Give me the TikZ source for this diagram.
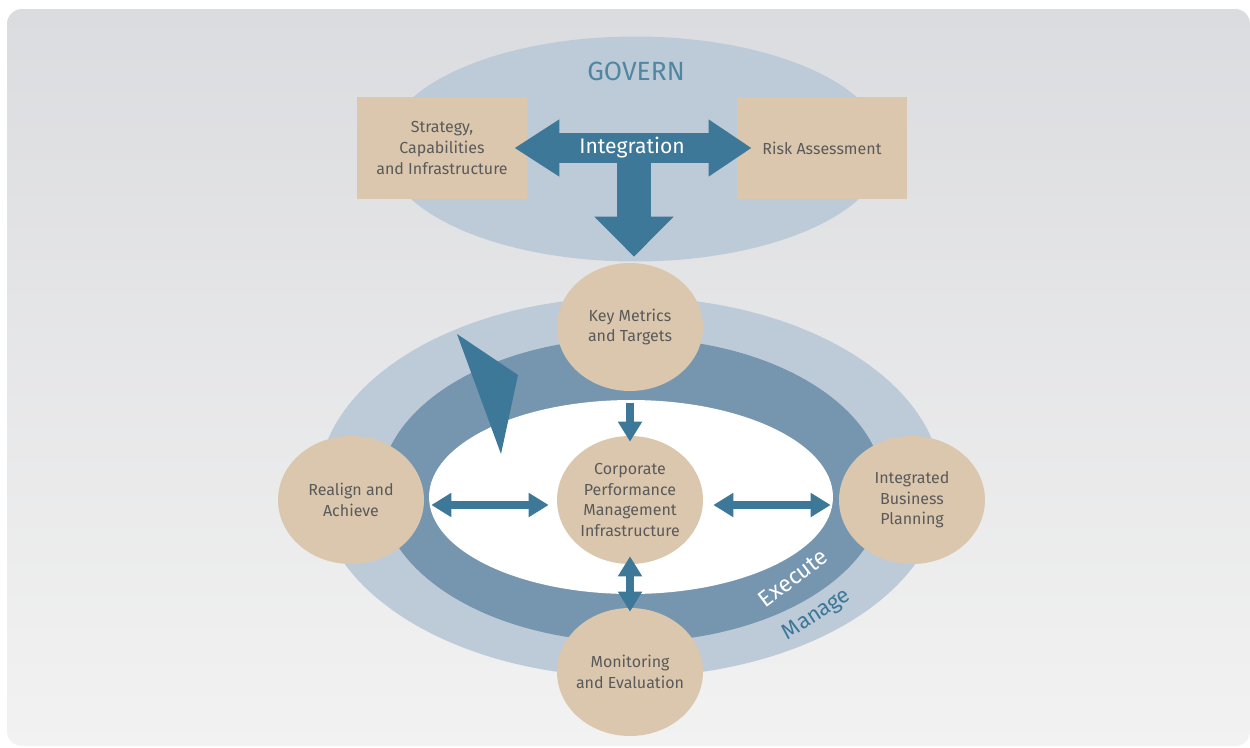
\documentclass[tikz,border=0pt]{standalone}
\usepackage{fontspec}
\setmainfont{Fira Sans}
\usepackage{xcolor}
\usetikzlibrary{arrows.meta,positioning,shapes.geometric}
\definecolor{bandlight}{HTML}{BDCBD8}
\definecolor{banddark}{HTML}{7696B0}
\definecolor{arrowblue}{HTML}{3E7898}
\definecolor{sand}{HTML}{DBC7AD}
\definecolor{textgray}{HTML}{5A5A5A}
\definecolor{bgtop}{HTML}{DBDCDF}
\definecolor{bgbottom}{HTML}{F2F2F2}

\tikzset{
    labeltext/.style={text=textgray, align=center, font=\fontsize{9.1}{11.7}\selectfont},
    box/.style={labeltext, rectangle, fill=sand, minimum width=3.4cm, minimum height=2.04cm},
    disc/.style={labeltext, ellipse, fill=sand, minimum width=2.92cm, minimum height=2.56cm, inner sep=-0.4cm},
    band/.style={ellipse, inner sep=0pt},
    fat/.style={draw=arrowblue, line width=0.62cm},
    link/.style={draw=arrowblue, line width=0.16cm, {Triangle[width=0.46cm,length=0.4cm]}-{Triangle[width=0.46cm,length=0.4cm]}}
}

\begin{document}
\begin{tikzpicture}[x=0.02cm, y=-0.02cm]
    \useasboundingbox (0,0) rectangle (1250,747);
    \fill[white] (0,0) rectangle (1250,747);
    \shade[top color=bgtop, bottom color=bgbottom, rounded corners=0.3cm] (7,9) rectangle (1250,746);

    % govern level
    \node[band, fill=bandlight, minimum width=10cm, minimum height=4.5cm] (govern) at (635,149) {};
    \node[text=arrowblue!90, font=\fontsize{15}{18}\selectfont] (governlbl) at (636,71) {GOVERN};
    \node[box] (strat) at (442,148) {Strategy,\\Capabilities\\and Infrastructure};
    \node[box] (risk) at (822,148) {Risk Assessment};

    % manage / execute rings
    \node[band, fill=bandlight, minimum width=12.48cm, minimum height=7.6cm] (manage) at (630,487) {};
    \node[band, fill=banddark, minimum width=10.08cm, minimum height=6.08cm] (execute) at (632,490) {};
    \node[band, fill=white, minimum width=8.08cm, minimum height=3.88cm] (core) at (631,497) {};
    \fill[arrowblue] (457,334) -- (518,375) -- (501,454) -- cycle;

    \node[rotate=37, inner sep=0pt, text=white, font=\fontsize{13}{15}\selectfont] (execlbl) at (793,578) {Execute};
    \node[rotate=33, inner sep=0pt, text=arrowblue, font=\fontsize{12.5}{15}\selectfont] (managelbl) at (817,615) {Manage};

    % integration arrows
    \draw[fat, {Triangle[width=1.08cm,length=0.9cm]}-{Triangle[width=1.08cm,length=0.86cm]}, shorten <=-0.26cm, shorten >=-0.3cm]
        (strat) -- node[text=white, font=\fontsize{12}{15}\selectfont] (integ) {Integration} (risk);

    % process steps
    \node[disc] (keym) at (630,327) {Key Metrics\\and Targets};
    \node[disc] (cpm) at (630,500) {Corporate\\Performance\\Management\\Infrastructure};
    \node[disc] (realign) at (351,500) {Realign and\\Achieve};
    \node[disc] (ibp) at (912,500) {Integrated\\Business\\Planning};
    \node[disc] (monitor) at (630,672) {Monitoring\\and Evaluation};

    \draw[fat, line width=0.68cm, -{Triangle[width=1.54cm,length=0.8cm]}, shorten <=0.3cm, shorten >=0.12cm]
        ([xshift=0.08cm]integ.center -| keym.north) -- ([xshift=0.08cm]keym.north);

    \draw[link, -{Triangle[width=0.46cm,length=0.4cm]}, shorten <=0.24cm, shorten >=-0.12cm] (keym) -- (cpm);
    \draw[link, shorten <=0.14cm, shorten >=0.16cm] ([yshift=-0.1cm]realign.east) -- ([yshift=-0.1cm]cpm.west);
    \draw[link, shorten <=0.2cm, shorten >=0.16cm] ([yshift=-0.1cm]cpm.east) -- ([yshift=-0.1cm]ibp.west);
    \draw[link, shorten <=-0.16cm, shorten >=-0.08cm] (cpm) -- (monitor);
\end{tikzpicture}
\end{document}
